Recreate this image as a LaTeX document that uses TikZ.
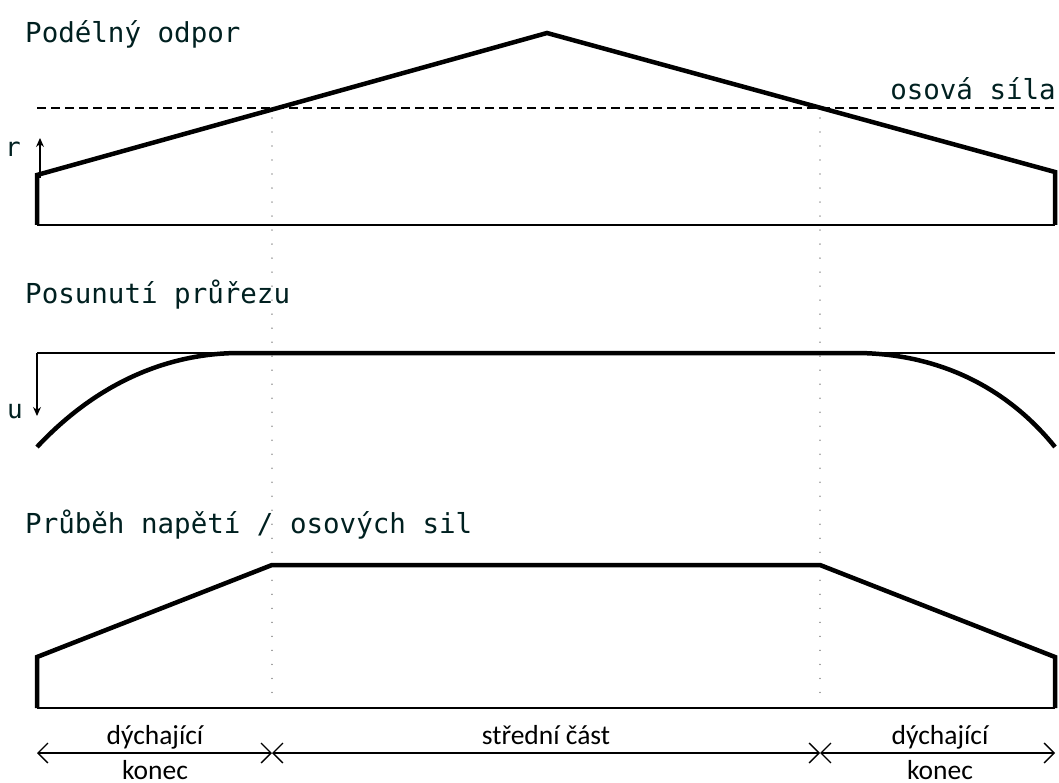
\documentclass[tikz,border=0pt]{standalone}
\usepackage{fontspec}
\setmainfont{DejaVu Sans Mono}
\newfontfamily\lblfont{Carlito}
\usetikzlibrary{arrows.meta}
\begin{document}
\begin{tikzpicture}[x=1pt,y=-1pt,
  thickline/.style={line width=4.5pt,line join=miter},
  baseline/.style={line width=2pt},
  thinline/.style={line width=1.3pt},
  dotline/.style={line width=1.6pt,gray!80,line cap=round,dash pattern=on 0.01pt off 14pt},
  dashline/.style={line width=1.3pt,dash pattern=on 9pt off 5pt},
  title/.style={font=\fontsize{27.5}{32}\selectfont,text=black!75!teal,inner sep=0pt,anchor=base west},
  axlbl/.style={font=\fontsize{26}{30}\selectfont,text=black!75!teal,inner sep=0pt,anchor=base},
  lbl/.style={font=\lblfont\fontsize{27.5}{30}\selectfont,inner sep=0pt,anchor=base},
  spanarrow/.style={line width=1.3pt,{Straight Barb[length=10pt,width=20pt]}-{Straight Barb[length=10pt,width=20pt]}}
]
\useasboundingbox (0,0) rectangle (1059,783);
% dotted separators
\coordinate (d1t) at (272,118); \coordinate (d1b) at (272,700);
\coordinate (d2t) at (820,118); \coordinate (d2b) at (820,700);
\draw[dotline] (d1t) -- (d1b);
\draw[dotline] (d2t) -- (d2b);

% ---------- panel 1
\node[title] (t1) at (25,43) {Podélný odpor};
\coordinate (a0) at (37,225); \coordinate (a1) at (37,175);
\coordinate (apk) at (547,33);
\coordinate (a2) at (1055,172); \coordinate (a3) at (1055,225);
\draw[baseline] (a0) -- (a3);
\draw[thickline] (a0) -- (a1) -- (apk) -- (a2) -- (a3);
\coordinate (ds) at (37,108); \coordinate (de) at (1055,108);
\draw[dashline] (ds) -- (de);
\node[title,anchor=base east] (os) at (1056,100) {osová síla};
\coordinate (ra0) at (40,178); \coordinate (ra1) at (40,138);
\draw[thinline,-{Stealth[length=9pt,width=8pt]}] (ra0) -- (ra1);
\node[axlbl] (rl) at (13,157) {r};

% ---------- panel 2
\node[title] (t2) at (25,303) {Posunutí průřezu};
\coordinate (b0) at (37,353); \coordinate (b1) at (1055,353);
\draw[thinline] (b0) -- (b1);
\coordinate (ua) at (37,416);
\draw[thinline,-{Stealth[length=9pt,width=8pt]}] (b0) -- (ua);
\node[axlbl] (ul) at (15,418) {u};
\coordinate (c0) at (37,447); \coordinate (c1) at (240,353);
\coordinate (c2) at (855,353); \coordinate (c3) at (1055,447);
\draw[thickline,line cap=butt] (c0) .. controls (95,385) and (165,353) .. (c1) -- (c2)
   .. controls (935,353) and (1005,385) .. (c3);

% ---------- panel 3
\node[title] (t3) at (25,533) {Průběh napětí / osových sil};
\coordinate (e0) at (37,708); \coordinate (e1) at (37,657);
\coordinate (e2) at (272,565); \coordinate (e3) at (820,565);
\coordinate (e4) at (1055,657); \coordinate (e5) at (1055,708);
\draw[baseline] (e0) -- (e5);
\draw[thickline] (e0) -- (e1) -- (e2) -- (e3) -- (e4) -- (e5);

% ---------- spans
\coordinate (s0) at (37,753); \coordinate (s1) at (272,753);
\coordinate (s2) at (820,753); \coordinate (s3) at (1055,753);
\draw[spanarrow] (s0) -- (s1);
\draw[spanarrow] (s1) -- (s2);
\draw[spanarrow] (s2) -- (s3);
\node[lbl] (l1a) at (155,744) {dýchající};
\node[lbl] (l1b) at (155,779) {konec};
\node[lbl] (l2) at (546,744) {střední část};
\node[lbl] (l3a) at (940,744) {dýchající};
\node[lbl] (l3b) at (940,779) {konec};
\end{tikzpicture}
\end{document}
